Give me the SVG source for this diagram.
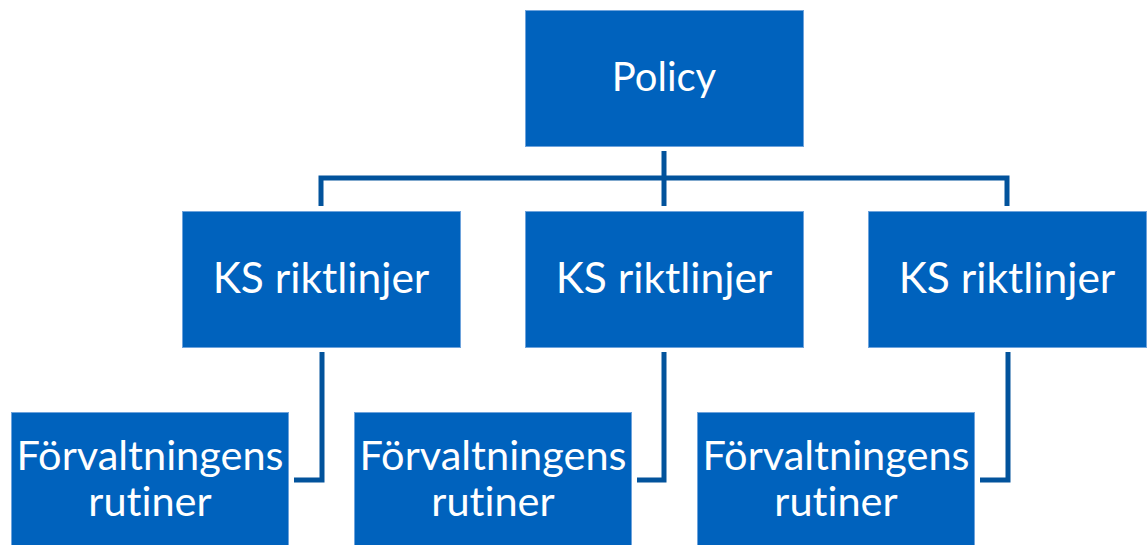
<svg xmlns="http://www.w3.org/2000/svg" width="1148" height="545" viewBox="0 0 1148 545">
<style>
.box{fill:#0062bd;stroke:#6ea3dc;stroke-width:1}
.t{fill:#ffffff;font-family:Lato,"Open Sans",sans-serif;font-size:40px;text-anchor:middle;font-variant-ligatures:none}
.ks{font-size:42.5px}
.fr{font-size:41.5px}
.c{fill:none;stroke:#02539c;stroke-width:5;stroke-linejoin:miter}
</style>
<rect width="1148" height="545" fill="#ffffff"/>
<g id="connectors">
<path class="c" d="M664 151 V206"/>
<path class="c" d="M321 206 V178 H1007 V206"/>
<path class="c" d="M322 352 V480 H294"/>
<path class="c" d="M664 352 V480 H637"/>
<path class="c" d="M1008 352 V480 H980"/>
</g>
<g id="policy">
<rect class="box" x="525.5" y="10.5" width="278" height="136"/>
<text class="t" x="664" y="91">Policy</text>
</g>
<g id="ks1">
<rect class="box" x="182.5" y="211.5" width="278" height="136"/>
<text class="t ks" x="321" y="293">KS riktlinjer</text>
</g>
<g id="ks2">
<rect class="box" x="525.5" y="211.5" width="278" height="136"/>
<text class="t ks" x="664" y="293">KS riktlinjer</text>
</g>
<g id="ks3">
<rect class="box" x="868.5" y="211.5" width="278" height="136"/>
<text class="t ks" x="1007" y="293">KS riktlinjer</text>
</g>
<g id="fr1">
<rect class="box" x="11.5" y="412.5" width="277" height="140"/>
<text class="t fr" x="150" y="470">Förvaltningens</text>
<text class="t fr" x="150" y="516">rutiner</text>
</g>
<g id="fr2">
<rect class="box" x="354.5" y="412.5" width="277" height="140"/>
<text class="t fr" x="493" y="470">Förvaltningens</text>
<text class="t fr" x="493" y="516">rutiner</text>
</g>
<g id="fr3">
<rect class="box" x="697.5" y="412.5" width="277" height="140"/>
<text class="t fr" x="836" y="470">Förvaltningens</text>
<text class="t fr" x="836" y="516">rutiner</text>
</g>
</svg>
